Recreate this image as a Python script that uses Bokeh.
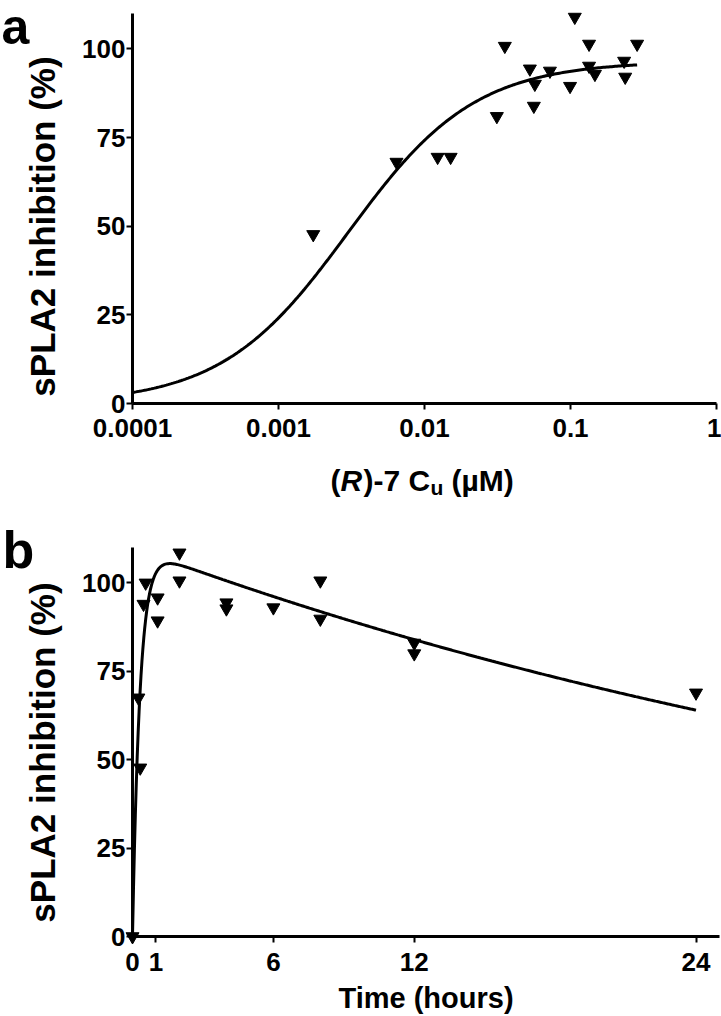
import numpy as np
from bokeh.plotting import figure
from bokeh.models import Range1d, Label, FixedTicker, PrintfTickFormatter
from bokeh.layouts import column
from bokeh.embed import file_html
from bokeh.resources import INLINE

# ---------------- data ----------------
# panel a: unbound concentration (uM) vs inhibition (%)
conc_a = [0.00173, 0.00643, 0.0123, 0.0151, 0.0313, 0.0355, 0.0527, 0.057, 0.0561,
          0.0723, 0.0993, 0.107, 0.134, 0.134, 0.147, 0.233, 0.237, 0.286]
inhib_a = [47.7, 68.1, 69.5, 69.5, 81.0, 100.8, 94.4, 90.1, 83.9,
           93.8, 89.5, 109.0, 101.4, 95.2, 92.9, 96.6, 92.1, 101.4]
# sigmoid fit parameters (panel a)
fit_a_top = 96.5
fit_a_bottom = 0.0
fit_a_ec50 = 0.003
fit_a_hill = 1.0
fit_a_xmin, fit_a_xmax = 1e-4, 0.286

# panel b: time (hours) vs inhibition (%)
time_b = [0, 0.25, 0.33, 0.47, 0.56, 1.07, 1.07, 2.0, 2.0, 4.0, 4.0, 6.0, 8.0, 8.0, 12.0, 12.0, 24.0]
inhib_b = [0, 67.5, 47.7, 94.0, 100.0, 95.8, 89.3, 108.5, 100.6, 94.4, 92.7, 93.0, 100.6, 89.8, 83.0, 80.0, 68.9]
# absorption/elimination fit parameters (panel b)
fit_b_amp = 110.1
fit_b_ka = 3.13
fit_b_ke = 0.0226
fit_b_tmax = 24.0

xlim_a = (1e-4, 1.0)
xlim_b = (0.0, 25.0)
ylim = (0.0, 110.0)
xticks_a = [0.0001, 0.001, 0.01, 0.1, 1]
yticks = [0, 25, 50, 75, 100]
xticks_b = [0, 1, 6, 12, 24]

FONT = "Liberation Sans"
TICK_FS = "26px"
W, H = 721, 508

# fitted curves
xa = np.logspace(np.log10(fit_a_xmin), np.log10(fit_a_xmax), 300)
ya = fit_a_bottom + (fit_a_top - fit_a_bottom) / (1 + (fit_a_ec50 / xa) ** fit_a_hill)
tb = np.linspace(0, fit_b_tmax, 600)
yb = fit_b_amp * (np.exp(-fit_b_ke * tb) - np.exp(-fit_b_ka * tb))


def padded(lo, hi, px_lo, px_hi, total, log=False):
    """Extend a range so that [lo, hi] occupies pixels [px_lo, px_hi] of a canvas of size total."""
    if log:
        lo, hi = np.log10(lo), np.log10(hi)
    per = (hi - lo) / (px_hi - px_lo)
    a, b = lo - px_lo * per, hi + (total - px_hi) * per
    if log:
        return 10 ** a, 10 ** b
    return a, b


def make_fig(xr, yr, log_x):
    p = figure(width=W, height=H, x_axis_type="log" if log_x else "linear",
               x_range=Range1d(*xr), y_range=Range1d(*yr),
               output_backend="svg", toolbar_location=None, title=None,
               min_border=0, min_border_left=0, min_border_right=0,
               min_border_top=0, min_border_bottom=0)
    p.grid.visible = False
    p.outline_line_color = None
    for ax in (p.xaxis[0], p.yaxis[0]):
        ax.axis_line_width = 3
        ax.axis_line_color = "black"
        ax.major_tick_line_width = 2
        ax.major_tick_line_color = "black"
        ax.major_tick_in = 0
        ax.major_tick_out = 6
        ax.minor_tick_line_color = None
        ax.major_label_text_font = FONT
        ax.major_label_text_font_style = "bold"
        ax.major_label_text_font_size = TICK_FS
        ax.major_label_text_color = "black"
        ax.axis_label_text_font = FONT
        ax.axis_label_text_font_style = "bold"
        ax.axis_label_text_color = "black"
    p.yaxis[0].major_label_standoff = 1
    p.yaxis[0].ticker = FixedTicker(ticks=yticks, minor_ticks=[])
    p.yaxis[0].bounds = ylim
    p.xaxis[0].fixed_location = 0
    return p


def canvas_label(p, x, y, text, size, style="bold", angle=0.0, align="left", baseline="alphabetic"):
    p.add_layout(Label(x=x, y=y, x_units="canvas", y_units="canvas", text=text, angle=angle,
                       text_font=FONT, text_font_style=style, text_font_size=size,
                       text_color="black", text_align=align, text_baseline=baseline))


# ---------------- panel a ----------------
pa = make_fig(padded(*xlim_a, 132, 716, W, log=True),
              padded(ylim[1], ylim[0], 13, 403, H)[::-1], True)
pa.yaxis[0].fixed_location = xlim_a[0]
pa.xaxis[0].bounds = xlim_a
pa.xaxis[0].ticker = FixedTicker(ticks=xticks_a, minor_ticks=[])
pa.xaxis[0].formatter = PrintfTickFormatter(format="%g")
pa.xaxis[0].major_label_standoff = 9

pa.line(xa, ya, line_width=3, line_color="black")
pa.scatter(conc_a, inhib_a, marker="inverted_triangle", size=13, color="black")

base_y = 480
for txt, xx, yy, fs, st in [
    ("(", 330, base_y, "30px", "bold"),
    ("R", 340, base_y, "30px", "bold italic"),
    (")-7 C", 363, base_y, "30px", "bold"),
    ("u", 430, base_y + 7, "21px", "bold"),
    ("(µM)", 451, base_y, "30px", "bold"),
]:
    canvas_label(pa, xx, yy, txt, fs, st)

canvas_label(pa, 42, 226, "sPLA2 inhibition (%)", "35px", angle=np.pi / 2,
             align="center", baseline="middle")
canvas_label(pa, 1, 26, "a", "50px")

# ---------------- panel b ----------------
pb = make_fig(padded(*xlim_b, 132, 719, W),
              padded(ylim[1], ylim[0], 39, 428, H)[::-1], False)
pb.yaxis[0].fixed_location = xlim_b[0]
pb.xaxis[0].bounds = xlim_b
pb.xaxis[0].ticker = FixedTicker(ticks=xticks_b, minor_ticks=[])
pb.xaxis[0].major_label_standoff = 10
pb.xaxis[0].axis_label = "Time (hours)"
pb.xaxis[0].axis_label_text_font_size = "29px"
pb.xaxis[0].axis_label_standoff = 8

pb.line(tb, yb, line_width=3, line_color="black")
pb.scatter(time_b, inhib_b, marker="inverted_triangle", size=13, color="black")

canvas_label(pb, 42, 244, "sPLA2 inhibition (%)", "35px", angle=np.pi / 2,
             align="center", baseline="middle")
canvas_label(pb, 2, 41, "b", "52px")

layout = column(pa, pb)
open("out.html", "w").write(file_html(layout, INLINE))
